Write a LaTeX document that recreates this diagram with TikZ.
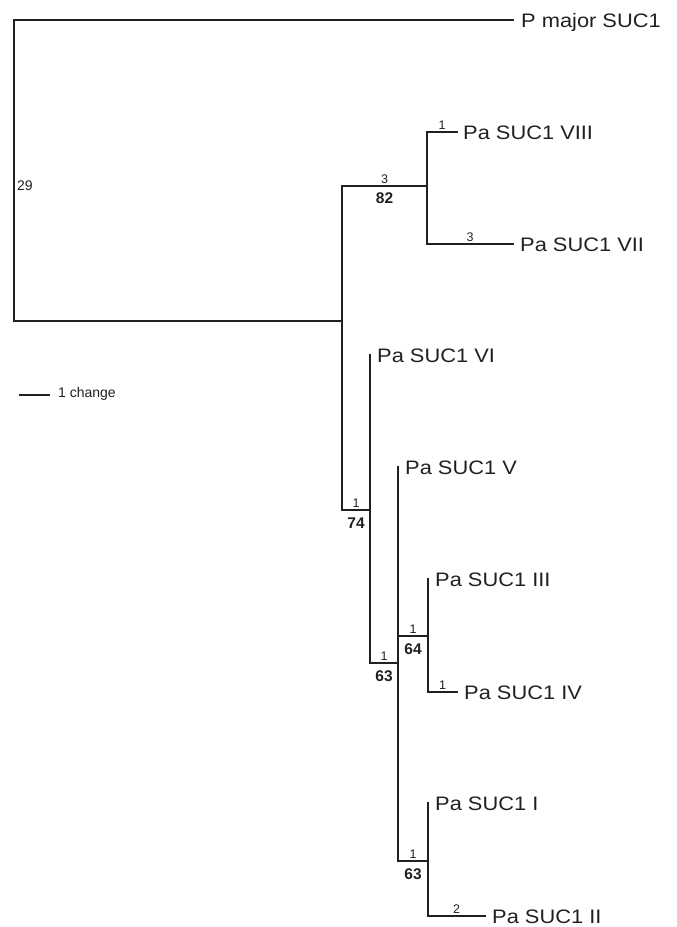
\documentclass[tikz,border=0pt]{standalone}
\usepackage{fontspec}
\setmainfont{Liberation Sans}
\newfontfamily\taxfont[FakeStretch=1.12]{Liberation Sans}
\definecolor{ink}{HTML}{231F20}
\begin{document}
\begin{tikzpicture}[x=1pt,y=-1pt,
  br/.style={draw=ink,line width=2.7pt,line join=miter,line cap=rect},
  tax/.style={anchor=base west,inner sep=0pt,font=\taxfont\fontsize{19.5}{19.5}\selectfont,text=ink},
  bl/.style={anchor=base,inner sep=0pt,font=\fontsize{12.5}{12.5}\selectfont,text=ink},
  bs/.style={anchor=base,inner sep=0pt,font=\bfseries\fontsize{15.5}{15.5}\selectfont,text=ink},
  note/.style={anchor=west,inner sep=0pt,font=\fontsize{14}{14}\selectfont,text=ink}]
\useasboundingbox (0,0) rectangle (677,927);
% coordinates
\coordinate (rtop) at (14,20);
\coordinate (rbot) at (14,321);
\coordinate (pm) at (513,20);
\coordinate (A) at (342,321);
\coordinate (Atop) at (342,186);
\coordinate (Abot) at (342,510);
\coordinate (B) at (427,186);
\coordinate (Btop) at (427,132);
\coordinate (Bbot) at (427,244);
\coordinate (t8) at (457,132);
\coordinate (t7) at (513,244);
\coordinate (C) at (370,510);
\coordinate (t6) at (370,355);
\coordinate (Cbot) at (370,663);
\coordinate (D) at (398,663);
\coordinate (t5) at (398,467);
\coordinate (Dmid) at (398,636);
\coordinate (Dbot) at (398,861);
\coordinate (E) at (428,636);
\coordinate (t3) at (428,579);
\coordinate (Ebot) at (428,692);
\coordinate (t4) at (457,692);
\coordinate (F) at (428,861);
\coordinate (t1) at (428,803);
\coordinate (Fbot) at (428,916);
\coordinate (t2) at (485,916);
\coordinate (sbl) at (19,395);
\coordinate (sbr) at (50,395);
% branches
\draw[br] (pm) -- (rtop) -- (rbot) -- (A);
\draw[br] (C) -- (Abot) -- (Atop) -- (B);
\draw[br] (t8) -- (Btop) -- (Bbot) -- (t7);
\draw[br] (t6) -- (Cbot) -- (D);
\draw[br] (t5) -- (Dbot) -- (F);
\draw[br] (Dmid) -- (E);
\draw[br] (t3) -- (Ebot) -- (t4);
\draw[br] (t1) -- (Fbot) -- (t2);
\draw[draw=ink,line width=2pt] (sbl) -- (sbr);
% taxa
\node[tax] (lpm) at (521,27) {P major SUC1};
\node[tax] (l8) at (463,139) {Pa SUC1 VIII};
\node[tax] (l7) at (520,251) {Pa SUC1 VII};
\node[tax] (l6) at (377,362) {Pa SUC1 VI};
\node[tax] (l5) at (405,474) {Pa SUC1 V};
\node[tax] (l3) at (435,586) {Pa SUC1 III};
\node[tax] (l4) at (464,699) {Pa SUC1 IV};
\node[tax] (l1) at (435,810) {Pa SUC1 I};
\node[tax] (l2) at (492,923) {Pa SUC1 II};
% branch lengths and support
\node[note] (n29) at (17,186) {29};
\node[note] (nscale) at (58,394) {1 change};
\node[bl] (bB) at (384.5,183.5) {3};
\node[bs] (sB) at (384.5,203) {82};
\node[bl] (b8) at (442,129.5) {1};
\node[bl] (b7) at (470,241.5) {3};
\node[bl] (bC) at (356,507.5) {1};
\node[bs] (sC) at (356,528) {74};
\node[bl] (bD) at (384,660.5) {1};
\node[bs] (sD) at (384,681) {63};
\node[bl] (bE) at (413,633.5) {1};
\node[bs] (sE) at (413,654) {64};
\node[bl] (b4) at (442.5,689.5) {1};
\node[bl] (bF) at (413,858.5) {1};
\node[bs] (sF) at (413,879) {63};
\node[bl] (b2) at (456.5,913.5) {2};
\end{tikzpicture}
\end{document}
